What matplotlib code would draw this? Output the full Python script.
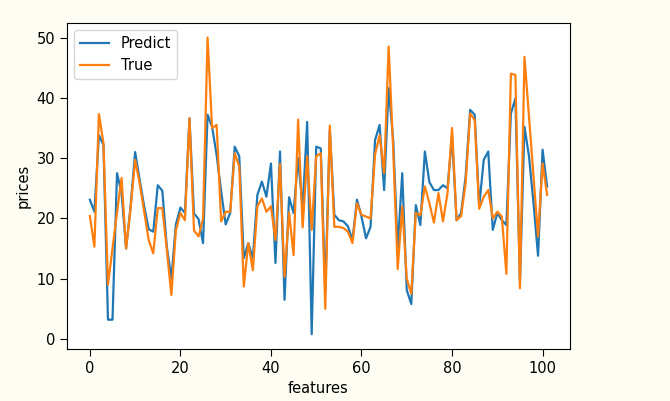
import matplotlib
matplotlib.use("Agg")
import matplotlib.pyplot as plt
import numpy as np

# values (102 test samples)
predict = [
    23.1, 21.1, 33.8, 32.2, 3.2, 3.2, 27.5, 24.2, 15.0, 22.0,
    31.0, 26.4, 22.0, 18.2, 17.8, 25.5, 24.6, 15.3, 10.0, 19.0,
    21.8, 20.9, 36.6, 20.8, 19.9, 15.9, 37.2, 35.2, 30.5, 24.5,
    19.0, 20.9, 31.9, 30.3, 13.4, 15.9, 13.4, 23.9, 26.1, 23.6,
    29.1, 12.6, 31.1, 6.5, 23.5, 20.9, 30.0, 21.7, 36.0, 0.8,
    31.9, 31.6, 8.0, 34.7, 20.6, 19.7, 19.5, 18.7, 16.4, 23.1,
    20.3, 16.7, 18.6, 33.0, 35.5, 24.7, 41.6, 33.0, 15.0, 27.5,
    8.1, 5.8, 22.2, 18.9, 31.1, 26.0, 24.7, 24.7, 25.5, 25.0,
    33.6, 19.7, 20.9, 26.9, 38.0, 37.2, 22.0, 29.7, 31.1, 18.1,
    20.9, 19.7, 18.9, 37.4, 39.9, 9.5, 35.2, 30.3, 22.5, 13.8,
    31.4, 25.3,
]
true = [
    20.4, 15.3, 37.3, 32.5, 9.0, 15.0, 21.0, 26.7, 15.0, 21.7,
    29.7, 25.8, 21.1, 16.4, 14.2, 21.7, 21.7, 14.8, 7.3, 18.0,
    20.9, 19.7, 36.6, 18.0, 17.0, 20.0, 50.0, 35.0, 35.5, 19.5,
    21.1, 21.1, 30.8, 28.6, 8.7, 15.9, 11.4, 22.0, 23.3, 21.1,
    22.0, 16.4, 29.0, 10.3, 21.0, 13.9, 36.4, 18.5, 30.3, 18.1,
    30.3, 30.8, 5.0, 35.4, 18.6, 18.6, 18.4, 17.8, 15.9, 22.5,
    20.6, 20.3, 20.0, 30.6, 33.8, 27.5, 48.5, 31.4, 11.6, 22.0,
    10.0, 7.5, 20.9, 20.5, 25.3, 22.5, 19.3, 24.2, 19.5, 24.2,
    35.0, 19.7, 20.4, 25.8, 37.4, 36.3, 21.6, 23.6, 24.7, 20.0,
    21.1, 20.3, 10.8, 44.0, 43.8, 8.4, 46.8, 36.9, 26.9, 17.0,
    29.1, 23.9,
]

fig = plt.figure(figsize=(6.70, 4.01), dpi=100, facecolor="#fdfdf3")
ax = fig.add_axes([0.1, 0.1297, 0.7507, 0.8137])

x = np.arange(len(predict))
ax.plot(x, predict, color="#1f77b4", linewidth=1.6, label="Predict")
ax.plot(x, true, color="#ff7f0e", linewidth=1.6, label="True")

ax.set_xlabel("features", fontsize=10.5)
ax.set_ylabel("prices", fontsize=10.5)
ax.tick_params(labelsize=10.5, length=5)
ax.legend(loc="upper left", fontsize=10.5)

fig.savefig("out.png", dpi=100, facecolor=fig.get_facecolor())
